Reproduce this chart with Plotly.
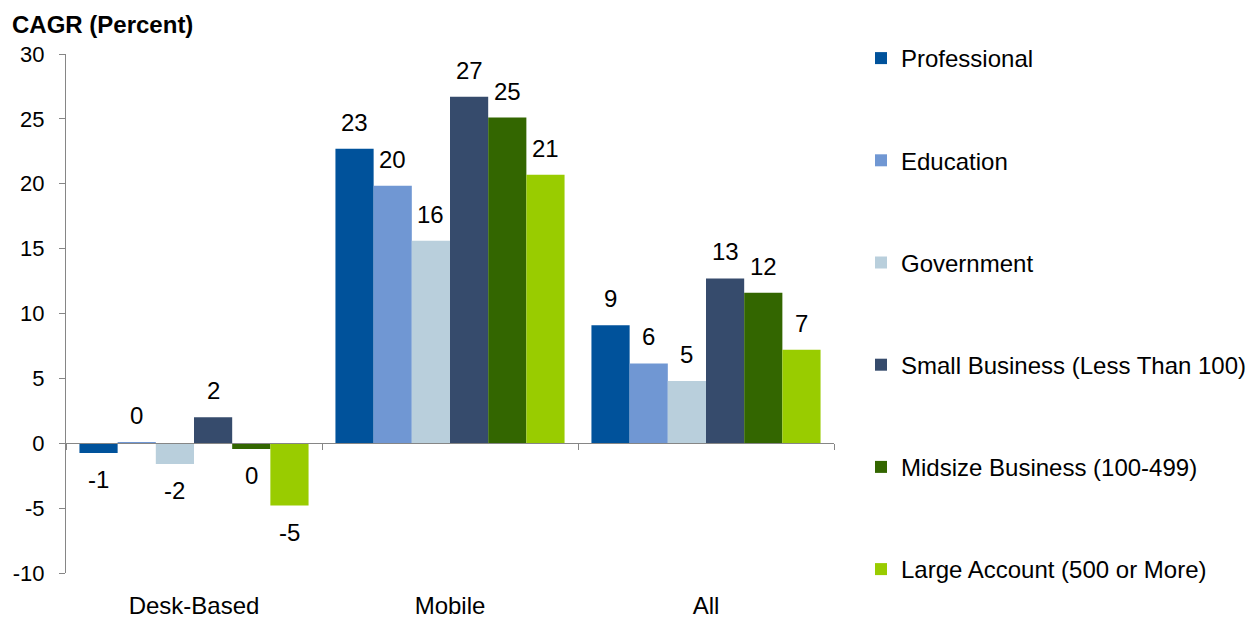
import plotly.graph_objects as go

# Compound annual growth rate by segment and device type
categories = ["Desk-Based", "Mobile", "All"]

series_names = [
    "Professional",
    "Education",
    "Government",
    "Small Business (Less Than 100)",
    "Midsize Business (100-499)",
    "Large Account (500 or More)",
]

professional = [-0.75, 22.7, 9.1]
education = [0.1, 19.85, 6.15]
government = [-1.6, 15.6, 4.8]
small_business = [2.0, 26.7, 12.7]
midsize_business = [-0.45, 25.1, 11.6]
large_account = [-4.8, 20.7, 7.2]

series_values = [professional, education, government,
                 small_business, midsize_business, large_account]

colors = ["#00529B", "#7097D3", "#B9CFDC", "#364B6C", "#336600", "#99CC00"]

y_tick_values = [-10, -5, 0, 5, 10, 15, 20, 25, 30]
y_tick_labels = ["-10", "-5", "0", "5", "10", "15", "20", "25", "30"]

FONT = "Liberation Sans, Arial, sans-serif"
AXIS_GRAY = "#868686"
BARGAP = 0.105
LABEL_SIZE = 24


def label(v):
    r = int(round(v))
    return str(0 if r == 0 else r)


fig = go.Figure()
n_series = len(series_names)
bar_w = (1 - BARGAP) / n_series
annotations = []
for i, (name, vals, col) in enumerate(zip(series_names, series_values, colors)):
    fig.add_trace(go.Bar(
        x=categories,
        y=vals,
        name=name,
        marker=dict(color=col, line=dict(width=0)),
        legendgroup=f"g{i}",
    ))
    # value labels sit a little above (or below) each bar
    offset = (i - (n_series - 1) / 2) * bar_w
    for c, v in enumerate(vals):
        annotations.append(dict(
            x=c + offset, y=v, xref="x", yref="y",
            text=label(v), showarrow=False,
            yanchor="bottom" if v >= 0 else "top",
            yshift=11 if v >= 0 else -11,
            font=dict(family=FONT, size=LABEL_SIZE, color="#000000"),
        ))

# Axis line at zero with category-boundary ticks
fig.add_trace(go.Scatter(
    x=categories, y=[0] * len(categories), xaxis="x2", yaxis="y",
    mode="lines", line=dict(width=0), showlegend=False, hoverinfo="skip",
))

fig.update_layout(
    width=1249,
    height=618,
    margin=dict(l=66, r=415, t=54, b=45),
    paper_bgcolor="white",
    plot_bgcolor="white",
    barmode="group",
    bargap=BARGAP,
    bargroupgap=0,
    font=dict(family=FONT, size=22, color="#000000"),
    annotations=annotations,
    title=dict(
        text="<b>CAGR (Percent)</b>",
        x=12 / 1249, xanchor="left", xref="container",
        y=1 - 25 / 618, yanchor="middle", yref="container",
        font=dict(family=FONT, size=24, color="#000000"),
    ),
    xaxis=dict(
        type="category",
        range=[-0.5, 2.5],
        showline=False,
        showgrid=False,
        zeroline=False,
        ticks="",
        tickfont=dict(family=FONT, size=24, color="#000000"),
        ticklabelstandoff=16,
        automargin=False,
    ),
    xaxis2=dict(
        type="category",
        overlaying="x",
        anchor="free",
        position=0.25,
        range=[-0.5, 2.5],
        showline=True,
        linecolor=AXIS_GRAY,
        linewidth=1,
        ticks="outside",
        tickson="boundaries",
        ticklen=6,
        tickcolor=AXIS_GRAY,
        showticklabels=False,
        showgrid=False,
        zeroline=False,
        automargin=False,
    ),
    yaxis=dict(
        range=[-10, 30],
        tickmode="array",
        tickvals=y_tick_values,
        ticktext=y_tick_labels,
        showline=True,
        linecolor=AXIS_GRAY,
        linewidth=1,
        ticks="outside",
        ticklen=6,
        tickcolor=AXIS_GRAY,
        showgrid=False,
        zeroline=False,
        tickfont=dict(family=FONT, size=22, color="#000000"),
        ticklabelstandoff=10,
        automargin=False,
    ),
    legend=dict(
        xref="container", yref="container",
        x=861 / 1249, xanchor="left",
        y=1 - 36 / 618, yanchor="top",
        traceorder="grouped",
        tracegroupgap=68,
        maxheight=600,
        font=dict(family=FONT, size=24, color="#000000"),
        bgcolor="rgba(0,0,0,0)",
        itemclick=False,
    ),
    showlegend=True,
)

fig.write_html("out.html")
